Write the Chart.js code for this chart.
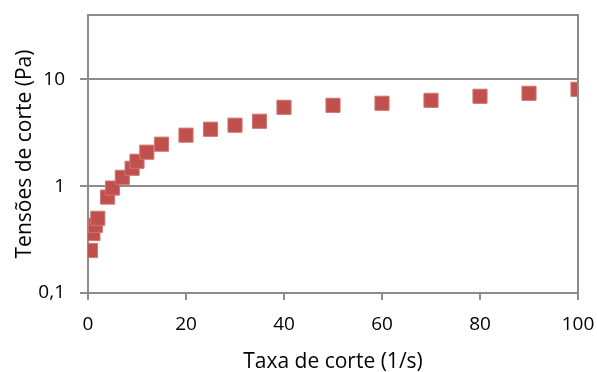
<!DOCTYPE html>
<html>
<head>
<meta charset="utf-8">
<script src="https://cdn.jsdelivr.net/npm/chart.js@4"></script>
<style>
  html, body { margin: 0; padding: 0; background: #fff; }
  #wrap { width: 597px; height: 372px; }
</style>
</head>
<body>
<div id="wrap"><canvas id="myChart"></canvas></div>
<script>
// shear rate (1/s) and shear stress (Pa)
const rates = [0.5, 1, 1.5, 2, 4, 5, 7, 9, 10, 12, 15, 20, 25, 30, 35, 40, 50, 60, 70, 80, 90, 100];
const stresses = [0.25, 0.36, 0.43, 0.5, 0.79, 0.96, 1.21, 1.47, 1.71, 2.08, 2.47, 3.0, 3.41, 3.72, 4.05, 5.47, 5.71, 5.97, 6.36, 6.94, 7.4, 8.07];
const xTicks = [0, 20, 40, 60, 80, 100];
const yTicks = [0.1, 1, 10];

const axisColor = '#8c8c8c';
const fontFamily = '"Open Sans", "Liberation Sans", sans-serif';

// draws the top and right edges of the plot box
const frame = {
  id: 'frame',
  afterDatasetsDraw(chart) {
    const a = chart.chartArea;
    const c = chart.ctx;
    c.save();
    c.strokeStyle = axisColor;
    c.lineWidth = 2;
    c.beginPath();
    c.moveTo(a.left, a.top);
    c.lineTo(a.right, a.top);
    c.lineTo(a.right, a.bottom);
    c.stroke();
    c.restore();
  }
};

const ctx = document.getElementById('myChart').getContext('2d');
new Chart(ctx, {
  type: 'scatter',
  data: {
    datasets: [{
      data: rates.map((r, i) => ({ x: r, y: stresses[i] })),
      pointStyle: 'rect',
      pointRadius: 10,
      pointHoverRadius: 10,
      backgroundColor: '#C0504D',
      borderColor: '#D27572',
      borderWidth: 1
    }]
  },
  options: {
    responsive: true,
    maintainAspectRatio: false,
    animation: false,
    layout: { padding: { left: 0, right: 19, top: 15, bottom: 0 } },
    plugins: { legend: { display: false }, tooltip: { enabled: false } },
    scales: {
      x: {
        type: 'linear',
        min: 0,
        max: 100,
        afterBuildTicks: s => { s.ticks = xTicks.map(v => ({ value: v })); },
        afterFit: s => { s.height = 79; s.paddingLeft = 0; s.paddingRight = 0; },
        grid: { drawOnChartArea: false, drawTicks: true, tickLength: 7, color: axisColor, lineWidth: 2 },
        border: { color: axisColor, width: 2 },
        ticks: { color: '#000', padding: 13, font: { family: fontFamily, size: 19 }, maxRotation: 0 },
        title: { display: true, text: 'Taxa de corte (1/s)', color: '#000', padding: { top: 0, bottom: -3 }, font: { family: fontFamily, size: 21 } }
      },
      y: {
        type: 'logarithmic',
        min: 0.1,
        max: 40,
        afterBuildTicks: s => { s.ticks = yTicks.map(v => ({ value: v })); },
        afterFit: s => { s.width = 88; s.paddingTop = 0; s.paddingBottom = 0; },
        grid: { color: axisColor, lineWidth: 2, tickLength: 8 },
        border: { color: axisColor, width: 2 },
        ticks: {
          color: '#000',
          padding: 15,
          font: { family: fontFamily, size: 19 },
          callback: v => String(v).replace('.', ',')
        },
        title: { display: true, text: 'Tensões de corte (Pa)', color: '#000', padding: { top: 12, bottom: 0 }, font: { family: fontFamily, size: 21 } }
      }
    }
  },
  plugins: [frame]
});
</script>
</body>
</html>
